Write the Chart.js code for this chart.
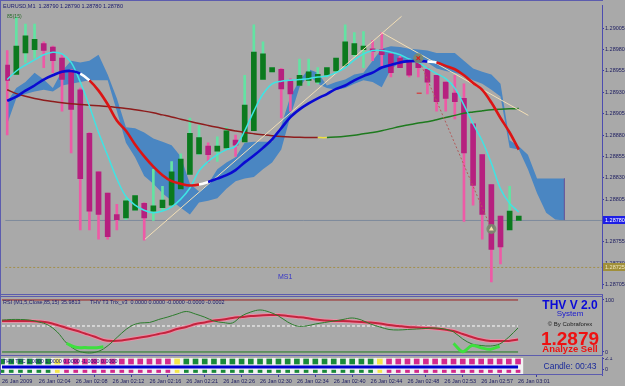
<!DOCTYPE html>
<html><head><meta charset="utf-8">
<script src="https://cdn.jsdelivr.net/npm/chart.js@4.4.1/dist/chart.umd.min.js"></script>
<style>
html,body{margin:0;padding:0;background:#a9a9a9;width:625px;height:386px;overflow:hidden;position:relative;font-family:"Liberation Sans",Arial,sans-serif}
canvas{position:absolute;left:0}
.t{position:absolute;white-space:nowrap;line-height:1}
.ln{position:absolute;background:#5c5cae}
</style></head><body>
<canvas id="main" width="625" height="294" style="top:0px"></canvas>
<canvas id="osc" width="625" height="61" style="top:295px"></canvas>
<canvas id="sig" width="625" height="29" style="top:357px"></canvas>
<div class="ln" style="left:0;top:0;width:603px;height:1px"></div>
<div class="ln" style="left:0;top:0;width:1px;height:375px"></div>
<div class="ln" style="left:0;top:294px;width:603px;height:1px"></div>
<div class="ln" style="left:0;top:296px;width:603px;height:1px"></div>
<div class="ln" style="left:0;top:355px;width:603px;height:1px"></div>
<div class="ln" style="left:0;top:374px;width:603px;height:1px"></div>

<div class="t" style="left:3px;top:3px;font-size:6px;color:#1a1a6e;transform:scaleX(.92);transform-origin:0 0">EURUSD,M1&nbsp; 1.28790 1.28790 1.28780 1.28780</div>
<div class="t" style="left:7px;top:13px;font-size:6px;color:#2a6a2a;transform:scaleX(.85);transform-origin:0 0">85(15)</div>
<div class="t" style="left:278px;top:273px;font-size:7px;color:#3434c8">MS1</div>
<div class="t" style="left:3px;top:299px;font-size:6px;color:#1a1a6e;transform:scaleX(.9);transform-origin:0 0">RSI (M1,5,Close,85,15) 35.9813</div>
<div class="t" style="left:90px;top:299px;font-size:6px;color:#1a1a6e;transform:scaleX(.9);transform-origin:0 0">THV T3 Trix_v3&nbsp; 0.0000 0.0000 -0.0000 -0.0000 -0.0002</div>
<div class="t" style="left:3px;top:358px;font-size:6px;color:#1a1a7a;transform:scaleX(.9);transform-origin:0 0">THV TFC 1.0000 1.0000 0.0000 -1.0000 0.0000</div>

<div class="t" style="left:530px;width:80px;text-align:center;top:298.5px;font-size:12px;font-weight:bold;color:#0a0ad8">THV V 2.0</div>
<div class="t" style="left:530px;width:80px;text-align:center;top:309.5px;font-size:8px;color:#1818d0">System</div>
<div class="t" style="left:530px;width:80px;text-align:center;top:321px;font-size:6px;color:#1a1a1a">© By Cobraforex</div>
<div class="t" style="left:530px;width:80px;text-align:center;top:329px;font-size:19px;font-weight:bold;color:#ee1111">1.2879</div>
<div class="t" style="left:530px;width:80px;text-align:center;top:344px;font-size:9.5px;font-weight:bold;color:#ee1111">Analyze Sell</div>
<div class="t" style="left:530px;width:80px;text-align:center;top:362px;font-size:8.5px;color:#1a2a9a">Candle: 00:43</div>

<script>
// ---------- data ----------
const timeTicks = ['26 Jan 2009','26 Jan 02:04','26 Jan 02:08','26 Jan 02:12','26 Jan 02:16','26 Jan 02:21','26 Jan 02:26','26 Jan 02:30','26 Jan 02:34','26 Jan 02:40','26 Jan 02:44','26 Jan 02:48','26 Jan 02:53','26 Jan 02:57','26 Jan 03:01'];
const priceTicks = [1.28705,1.28730,1.28755,1.28780,1.28805,1.28830,1.28855,1.28880,1.28905,1.28930,1.28955,1.28980,1.29005];

const open = [1.28962,1.28951,1.28976,1.28980,1.28987,1.28983,1.28970,1.28955,1.28933,1.28882,
 1.28837,1.28812,1.28787,1.28783,1.28792,1.28800,1.28791,1.28795,1.28798,1.28817,
 1.28834,1.28858,1.28867,1.28861,1.28865,1.28874,1.28872,1.28885,1.28945,1.28954,
 1.28957,1.28944,1.28938,1.28944,1.28942,1.28950,1.28955,1.28961,1.28974,1.28980,
 1.28981,1.28980,1.28975,1.28970,1.28967,1.28969,1.28957,1.28950,1.28942,1.28929,
 1.28923,1.28893,1.28857,1.28822,1.28785,1.28769,1.28780];
const high = [1.28979,1.29018,1.29010,1.29010,1.28989,1.28984,1.28974,1.28957,1.28935,1.28883,
 1.28837,1.28812,1.28799,1.28806,1.28809,1.28801,1.28840,1.28820,1.28849,1.28858,
 1.28900,1.28891,1.28871,1.28878,1.28889,1.28880,1.28950,1.29009,1.28989,1.28959,
 1.28958,1.28946,1.28969,1.28969,1.28959,1.28959,1.28970,1.29009,1.29000,1.29001,
 1.28991,1.29000,1.28976,1.28972,1.28969,1.28972,1.28959,1.28950,1.28942,1.28950,
 1.28940,1.28893,1.28857,1.28822,1.28785,1.28820,1.28785];
const low = [1.28880,1.28951,1.28965,1.28970,1.28959,1.28953,1.28908,1.28859,1.28769,1.28769,
 1.28758,1.28758,1.28769,1.28781,1.28792,1.28757,1.28780,1.28792,1.28798,1.28817,
 1.28834,1.28857,1.28848,1.28849,1.28863,1.28855,1.28872,1.28885,1.28945,1.28954,
 1.28900,1.28908,1.28938,1.28938,1.28940,1.28948,1.28953,1.28961,1.28972,1.28959,
 1.28967,1.28961,1.28948,1.28959,1.28948,1.28948,1.28928,1.28908,1.28908,1.28899,
 1.28779,1.28798,1.28758,1.28708,1.28729,1.28769,1.28780];
const close = [1.28944,1.28984,1.28996,1.28992,1.28979,1.28967,1.28945,1.28910,1.28829,1.28791,
 1.28787,1.28761,1.28781,1.28803,1.28809,1.28783,1.28797,1.28804,1.28837,1.28852,
 1.28882,1.28877,1.28857,1.28867,1.28885,1.28868,1.28915,1.28977,1.28975,1.28959,
 1.28934,1.28928,1.28950,1.28954,1.28951,1.28959,1.28970,1.28989,1.28987,1.28984,
 1.28978,1.28974,1.28953,1.28959,1.28950,1.28959,1.28942,1.28919,1.28923,1.28919,
 1.28859,1.28821,1.28787,1.28746,1.28749,1.28791,1.28785];

const fastMA = [1.28945,1.28955,1.28962,1.28968,1.28974,1.28977,1.28975,1.28965,1.28942,1.28914,
 1.28883,1.28856,1.28829,1.28808,1.28798,1.28792,1.28789,1.28791,1.28796,1.28805,
 1.28818,1.28838,1.28849,1.28857,1.28863,1.28867,1.28885,1.28908,1.28928,1.28940,
 1.28943,1.28944,1.28945,1.28946,1.28948,1.28949,1.28953,1.28959,1.28968,1.28975,
 1.28979,1.28979,1.28977,1.28974,1.28969,1.28965,1.28958,1.28952,1.28946,1.28935,
 1.28915,1.28893,1.28873,1.28847,1.28817,1.28800,1.28790];
const midMA = [1.28920,1.28925,1.28932,1.28938,1.28945,1.28950,1.28954,1.28955,1.28952,1.28944,
 1.28932,1.28916,1.28897,1.28885,1.28869,1.28855,1.28843,1.28833,1.28826,1.28823,
 1.28821,1.28822,1.28825,1.28829,1.28833,1.28839,1.28848,1.28856,1.28865,1.28875,
 1.28888,1.28901,1.28910,1.28917,1.28923,1.28928,1.28934,1.28938,1.28944,1.28949,
 1.28953,1.28959,1.28962,1.28965,1.289665,1.28967,1.28966,1.28965,1.28961,1.28957,
 1.28950,1.28941,1.28933,1.28918,1.28900,1.28883,1.28863];
const slowMA = [1.28933,1.289285,1.289253,1.289228,1.289208,1.289192,1.289178,1.289167,1.289158,1.28915,
 1.289142,1.289133,1.289122,1.28911,1.289096,1.28908,1.28906,1.289036,1.289012,1.288986,
 1.28896,1.288935,1.288912,1.28889,1.288868,1.288848,1.28883,1.288816,1.288804,1.288793,
 1.288784,1.288778,1.288774,1.288771,1.28877,1.28877,1.288776,1.288785,1.288798,1.288815,
 1.28883,1.28885,1.288875,1.2889,1.28892,1.28894,1.288955,1.28898,1.289005,1.28903,
 1.289055,1.28907,1.289083,1.289095,1.289102,1.289107,1.28911];

const cloudTop = [1.28919,1.28935,1.28942,1.28953,1.28945,1.28935,1.28955,1.28967,1.28965,1.28967,
 1.28974,1.28951,1.28923,1.28889,1.28888,1.28883,1.28876,1.28872,1.28868,1.28855,
 1.28823,1.28814,1.28823,1.28840,1.28848,1.28854,1.28871,1.28872,1.28872,1.28872,
 1.28891,1.28925,1.28944,1.28957,1.28953,1.28938,1.28942,1.28945,1.28951,1.28953,
 1.28967,1.28981,1.28984,1.28983,1.28981,1.28980,1.28979,1.28976,1.28976,1.28976,
 1.28967,1.28958,1.28954,1.28951,1.28940,1.28874,1.28867,1.28857,1.28829,1.28829,
 1.28829,1.28829];
const cloudBottom = [1.28893,1.28923,1.28928,1.28931,1.28933,1.28931,1.28938,1.28940,1.28942,1.28944,
 1.28944,1.28944,1.28908,1.28871,1.28854,1.28832,1.28823,1.28812,1.28803,1.28795,
 1.28787,1.28801,1.28803,1.28806,1.28817,1.28826,1.28829,1.28831,1.28840,1.28848,
 1.28863,1.28902,1.28936,1.28951,1.28940,1.28935,1.28933,1.28935,1.28940,1.28944,
 1.28942,1.28936,1.28957,1.28965,1.28965,1.28965,1.28965,1.28958,1.28955,1.28953,
 1.28950,1.28944,1.28940,1.28933,1.28925,1.28865,1.28863,1.28840,1.28812,1.28789,
 1.28781,1.28780];

const trendUpBars = [15.08, 43.17];
const trendUpPrices = [1.28758, 1.29019];
const trendDownBars = [41, 57.05];
const trendDownPrices = [1.29000, 1.28903];
const signalBars = [45, 53];
const signalPrices = [1.28970, 1.28770];
const stopBars = [45.1];
const stopPrices = [1.28929];
const bidPrice = 1.28780;
const levelPrice = 1.28725;

const oscLevels = [100, 50, 0];
const trixLine = [59.6,59.6,59.6,59.6,58.7,56.7,51.9,46.2,41.3,35.6,
 29.8,23.1,21.2,22.1,25,27.9,30.8,34.6,38.5,44.2,
 48.1,53.8,56.7,60.6,62.5,65.4,67.3,69.2,70.2,71.2,
 71.2,69.2,67.3,65.4,62.5,60.6,59.6,59.6,58.7,57.7,
 56.7,54.8,51.9,50,48.1,47.1,46.2,45.2,43.3,40.4,
 34.6,28.8,24,21.2,21.2,21.2,24];
const rsiLine = [61.5,62.5,62.5,61.5,57.7,51.9,38.5,17.3,4,-1.3,
 -1,5.8,20,36.5,50,55.8,56.7,62.5,67.3,73,
 77.9,73,67,59.6,56.7,55.8,69.2,76.9,80.8,76.9,
 69.2,57.7,50,50,53.8,56.7,59.6,62.5,65.4,61.5,
 53.8,48.1,43.3,42.3,43.3,44.2,45.2,46.2,44.2,38.5,
 25,15.4,12.5,11.5,15.4,28.8,46.2];
const rsiAlert = [null,null,null,null,null,null,null,16.7,9,8.5,
 8,10,null,null,null,null,null,null,null,null,
 null,null,null,null,null,null,null,null,null,null,
 null,null,null,null,null,null,null,null,null,null,
 null,null,null,null,null,null,null,null,null,16.7,
 0.6,12.5,8,5.2,11,null,null];
const trendSignal = [1,1,1,1,1,1,0,-1,-1,-1,
 -1,-1,-1,-1,-1,-1,-1,-1,-1,0,
 1,1,1,1,1,1,1,1,1,1,
 1,1,1,1,1,1,1,1,1,1,
 1,0,-1,-1,-1,-1,-1,-1,-1,-1,
 -1,-1,-1,-1,-1,-1,-1];

// ---------- helpers ----------
Chart.defaults.font.family = 'Liberation Sans';
const X_MIN = -0.217, X_MAX = 65.11;
const xHidden = {type:'linear', min:X_MIN, max:X_MAX, display:false, offset:false};
const pts = arr => arr.map((y,i)=>({x:i, y}));
const pair = (xs, ys) => xs.map((x,i)=>({x, y:ys[i]}));
const line = (data, color, width, order, extra={}) => Object.assign(
  {type:'line', data, borderColor:color, borderWidth:width, pointRadius:0, tension:0.35, fill:false, order}, extra);
function rightAxis(min, max, ticks, fmt) {
  return {type:'linear', position:'right', min, max,
    afterFit(s){ s.width = 23; s.paddingTop = 0; s.paddingBottom = 0; },
    afterBuildTicks(s){ s.ticks = ticks.map(v=>({value:v})); },
    ticks:{callback:fmt, font:{size:5.5}, color:'#1c1c60', padding:1, autoSkip:false},
    grid:{drawOnChartArea:false, drawTicks:true, tickLength:2, color:'#3a3a98'},
    border:{display:true, color:'#4c4cb0', width:1}};
}
const baseOpts = {responsive:false, animation:false, events:[], layout:{padding:0},
  plugins:{legend:{display:false}, tooltip:{enabled:false}}};

const isBull = i => close[i] >= open[i];
const midColor = ctx => {
  const i = ctx.p0DataIndex;
  const d1 = i >= 1 ? midMA[i]-midMA[i-1] : midMA[1]-midMA[0];
  const d2 = i >= 2 ? midMA[i-1]-midMA[i-2] : d1;
  if (Math.sign(d1) !== Math.sign(d2)) return '#ffffff';
  return d1 > 0 ? '#0a0ad2' : '#dc1414';
};
const slowColor = ctx => {
  const d = ctx.p1.parsed.y - ctx.p0.parsed.y;
  if (Math.abs(d) < 1e-9) return '#eee040';
  return d > 0 ? '#1e7a1e' : '#8e1c1c';
};

const priceTags = {
  id:'priceTags',
  afterDraw(chart){
    const {ctx, scales:{y}} = chart;
    const tag = (p, bg, fg) => {
      const py = y.getPixelForValue(p);
      ctx.save();
      ctx.fillStyle = bg; ctx.fillRect(603, Math.round(py)-4, 22, 8);
      ctx.fillStyle = fg; ctx.font = '5.5px "Liberation Sans"';
      ctx.textBaseline = 'middle'; ctx.textAlign = 'left';
      ctx.fillText(p.toFixed(5), 605, py);
      ctx.restore();
    };
    tag(levelPrice, '#a08f3a', '#efe6bf');
    tag(bidPrice, '#1e1ee6', '#ffffff');
  }
};

// ---------- main price chart ----------
new Chart(document.getElementById('main'), {
  type:'bar',
  data:{datasets:[
    line(pts(cloudTop), 'rgba(0,0,0,0)', 0, 30, {fill:'+1', backgroundColor:'#4a86c2', tension:0}),
    line(pts(cloudBottom), 'rgba(0,0,0,0)', 0, 31, {tension:0}),
    line([{x:cloudTop.length-1, y:cloudTop[cloudTop.length-1]},{x:cloudBottom.length-1, y:cloudBottom[cloudBottom.length-1]}], '#6c5c9c', 1, 29, {tension:0}),
    line([{x:X_MIN,y:bidPrice},{x:X_MAX,y:bidPrice}], '#7d8a9c', 1, 25, {tension:0}),
    line([{x:X_MIN,y:levelPrice},{x:X_MAX,y:levelPrice}], '#a4904a', 1, 25, {tension:0, borderDash:[2,2]}),
    {type:'bar', data: low.map((l,i)=>({x:i, y:[l, high[i]]})),
     backgroundColor: ctx => isBull(ctx.dataIndex) ? '#63e3a3' : '#ee5aa6',
     barThickness:2, grouped:false, order:12},
    {type:'bar', data: open.map((o,i)=>({x:i, y:[Math.min(o,close[i]), Math.max(o,close[i])]})),
     backgroundColor: ctx => isBull(ctx.dataIndex) ? '#0b7a1e' : '#b6207f',
     barThickness:5, grouped:false, minBarLength:1, order:11},
    line(pts(slowMA), '#8e1c1c', 1.5, 8, {segment:{borderColor:slowColor}}),
    line(pair(trendUpBars, trendUpPrices), '#f3dfb6', 1, 7, {tension:0}),
    line(pair(trendDownBars, trendDownPrices), '#f3dfb6', 1, 7, {tension:0}),
    line(pair(signalBars, signalPrices), '#b25a5a', 1, 7, {tension:0, borderDash:[2,2]}),
    line(pts(fastMA), '#3ee4e4', 1.5, 6),
    line(pts(midMA), '#0a0ad2', 2.6, 5, {segment:{borderColor:midColor}}),
    line(pair(signalBars, signalPrices), 'rgba(0,0,0,0)', 0, 3, {showLine:false, pointRadius:5, pointBackgroundColor:'rgba(120,138,110,0.9)', pointBorderWidth:0}),
    line(pair(signalBars.slice(0,1), signalPrices.slice(0,1)), 'rgba(0,0,0,0)', 0, 2, {showLine:false, pointRadius:2.5, pointStyle:'crossRot', pointBorderColor:'#e01818', pointBorderWidth:1.2}),
    line(pair(signalBars.slice(1), signalPrices.slice(1)), 'rgba(0,0,0,0)', 0, 2, {showLine:false, pointRadius:2.8, pointStyle:'triangle', pointBackgroundColor:'#f6e0a8', pointBorderWidth:0}),
    line(pair(stopBars, stopPrices), 'rgba(0,0,0,0)', 0, 2, {showLine:false, pointRadius:2.5, pointStyle:'line', pointBorderColor:'#e02020', pointBorderWidth:1})
  ]},
  options:Object.assign({}, baseOpts, {
    scales:{x:xHidden, y:rightAxis(1.28700, 1.29032, priceTicks, v=>Number(v).toFixed(5))}
  }),
  plugins:[priceTags]
});

// ---------- oscillator panel ----------
new Chart(document.getElementById('osc'), {
  type:'line',
  data:{datasets:[
    line([{x:0,y:oscLevels[0]},{x:close.length-1,y:oscLevels[0]}], '#9a1e1e', 1, 6, {tension:0}),
    line([{x:0,y:oscLevels[1]},{x:close.length-1,y:oscLevels[1]}], '#ffffff', 1, 6, {tension:0, borderDash:[3,2]}),
    line([{x:0,y:oscLevels[2]},{x:close.length-1,y:oscLevels[2]}], '#1e7a1e', 1, 6, {tension:0}),
    line(pts(trixLine), '#e690a6', 4, 5),
    line(pts(trixLine), '#c4243e', 2, 4),
    line(pts(rsiLine), '#2c7c2c', 1, 3),
    line(pts(rsiAlert), '#3ee03e', 3, 2)
  ]},
  options:Object.assign({}, baseOpts, {
    scales:{x:xHidden, y:rightAxis(-7.7, 109.6, [0,100], v=>String(v))}
  })
});

// ---------- signal bar panel + time axis ----------
const sigColor = s => s > 0 ? '#1a8a3a' : (s < 0 ? '#d42a8c' : '#f4e64a');
new Chart(document.getElementById('sig'), {
  type:'bar',
  data:{datasets:[
    {data: trendSignal.map((s,i)=>({x:i, y:[-0.95, 2.05]})), backgroundColor:'#f2f2f2', barThickness:9.6, grouped:false, order:5},
    {data: trendSignal.map((s,i)=>({x:i, y:[0.96, 1.91]})), backgroundColor: ctx=>sigColor(trendSignal[ctx.dataIndex]), barThickness:5, grouped:false, order:4},
    {data: trendSignal.map((s,i)=>({x:i, y:[-0.66, -0.2]})), backgroundColor: ctx=>sigColor(trendSignal[ctx.dataIndex]), barThickness:4, grouped:false, order:3},
    line([{x:0,y:0.39},{x:trendSignal.length-1,y:0.39}], '#0000cc', 3, 1, {tension:0})
  ]},
  options:Object.assign({}, baseOpts, {
    scales:{
      x:{type:'linear', min:X_MIN, max:X_MAX, position:'bottom', offset:false,
        afterFit(s){ s.height = 11; s.paddingLeft = 0; s.paddingRight = 0; },
        afterBuildTicks(s){ s.ticks = timeTicks.map((t,k)=>({value:k*4})); },
        ticks:{callback:(v,k)=>timeTicks[k], align:'start', font:{size:5.5}, color:'#1c1c60', padding:1, maxRotation:0, minRotation:0, autoSkip:false},
        grid:{drawOnChartArea:false, drawTicks:true, tickLength:2, color:'#3a3a98'},
        border:{display:false}},
      y:rightAxis(-1.13, 2.29, [0, 2.1], v=> v === 0 ? '0' : '2.1')
    }
  })
});
</script>
</body></html>
